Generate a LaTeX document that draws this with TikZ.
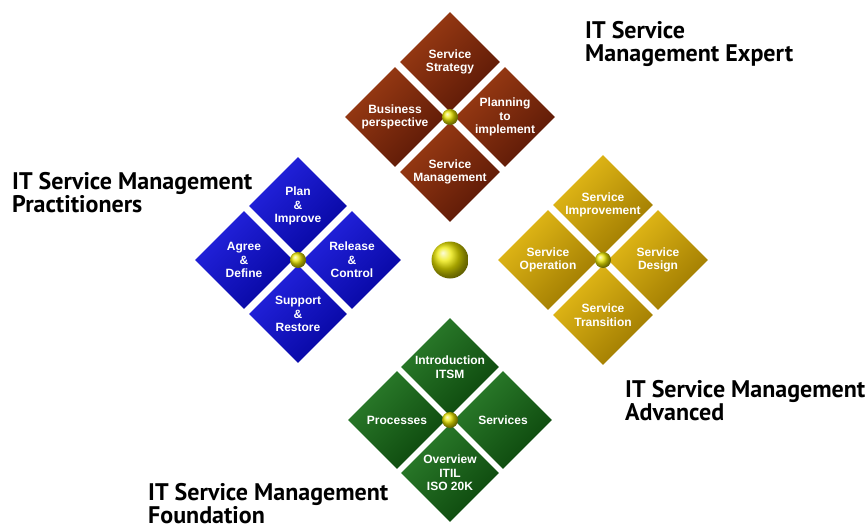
\documentclass[tikz,border=0pt]{standalone}
\usepackage{fontspec}
\setmainfont{Liberation Sans}
\newfontfamily\titlefont{PT Sans}
\usetikzlibrary{shapes}
\definecolor{rustlight}{HTML}{9C3C14}
\definecolor{rustdark}{HTML}{5A1806}
\definecolor{bluelight}{HTML}{2424E0}
\definecolor{bluedark}{HTML}{0606A0}
\definecolor{goldlight}{HTML}{E6BC18}
\definecolor{golddark}{HTML}{9C7800}
\definecolor{greenlight}{HTML}{2C7E2C}
\definecolor{greendark}{HTML}{0C460C}
\definecolor{ballyellow}{HTML}{ECE800}

\begin{document}
\begin{tikzpicture}[x=1pt,y=-1pt]
    \tikzstyle{dia}=[diamond,aspect=1,inner sep=-5pt,text=white,align=center,font=\bfseries\fontsize{12}{13.5}\selectfont]
    \tikzstyle{rdia}=[dia,top color=rustlight,bottom color=rustdark,shading angle=45,minimum size=100pt]
    \tikzstyle{bdia}=[dia,top color=bluelight,bottom color=bluedark,shading angle=45,minimum size=98pt]
    \tikzstyle{ydia}=[dia,top color=goldlight,bottom color=golddark,shading angle=45,minimum size=100pt]
    \tikzstyle{gdia}=[dia,top color=greenlight,bottom color=greendark,shading angle=45,minimum size=98pt]
    \tikzstyle{knob}=[circle,inner sep=0pt,minimum size=16pt,ball color=ballyellow]
    \tikzstyle{title}=[anchor=north west,inner sep=0pt,align=left,font=\titlefont\bfseries\fontsize{24}{23}\selectfont]

    \useasboundingbox (0,0) rectangle (867,530);

    % expert
    \node(rt) [rdia] at (450,62)  {Service\\Strategy};
    \node(rl) [rdia] at (395,117) {Business\\perspective};
    \node(rr) [rdia] at (505,117) {Planning\\to\\implement};
    \node(rb) [rdia] at (450,172) {Service\\Management};
    \node(rc) [knob] at (450,117) {};

    % practitioners
    \node(bt) [bdia] at (298,206) {Plan\\\&\\Improve};
    \node(bl) [bdia] at (244,260) {Agree\\\&\\Define};
    \node(br) [bdia] at (352,260) {Release\\\&\\Control};
    \node(bb) [bdia] at (298,314) {Support\\\&\\Restore};
    \node(bc) [knob] at (298,260) {};

    % advanced
    \node(yt) [ydia] at (603,205) {Service\\Improvement};
    \node(yl) [ydia] at (548,260) {Service\\Operation};
    \node(yr) [ydia] at (658,260) {Service\\Design};
    \node(yb) [ydia] at (603,315) {Service\\Transition};
    \node(yc) [knob] at (603,260) {};

    % foundation
    \node(gt) [gdia] at (450,367) {Introduction\\ITSM};
    \node(gl) [gdia] at (397,420) {Processes};
    \node(gr) [gdia] at (503,420) {Services};
    \node(gb) [gdia] at (450,473) {Overview\\ITIL\\ISO 20K};
    \node(gc) [knob] at (450,420) {};

    \node(hub) [knob,minimum size=37pt] at (450,260) {};

    \node(expert) [title] at (585,21)  {IT Service\\Management Expert};
    \node(pract)  [title] at (12,172)  {IT Service Management\\Practitioners};
    \node(adv)    [title] at (625,380) {IT Service Management\\Advanced};
    \node(found)  [title] at (148,483) {IT Service Management\\Foundation};

\end{tikzpicture}
\end{document}
